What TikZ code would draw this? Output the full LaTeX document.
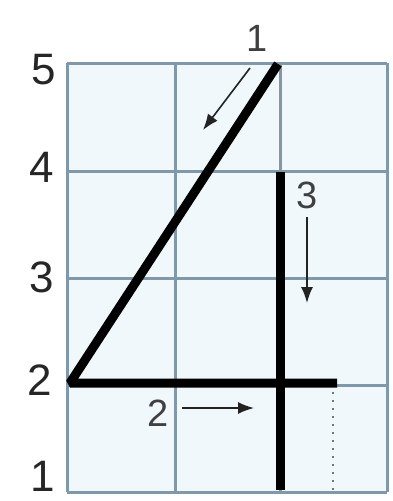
\documentclass[tikz,border=0pt]{standalone}
\usepackage{fontspec}
\setmainfont{Liberation Sans}
\usetikzlibrary{arrows.meta}
\definecolor{gridc}{RGB}{128,152,168}
\definecolor{cellc}{RGB}{240,248,252}
\definecolor{arrc}{RGB}{35,35,35}
\begin{document}
\begin{tikzpicture}[x=1pt,y=-1pt,
  gridline/.style={draw=gridc,line width=3pt},
  stroke/.style={draw=black,line width=9pt},
  hint/.style={draw=arrc,line width=1.6pt,-{Latex[length=16pt,width=12pt]}},
  axislab/.style={font=\fontsize{44}{44}\selectfont,text=black!85,inner sep=0pt},
  numlab/.style={font=\fontsize{38}{38}\selectfont,text=black!75,inner sep=0pt}]
\useasboundingbox (0,0) rectangle (393,501);
\fill[white] (0,0) rectangle (393,501);
\fill[cellc] (67,63) rectangle (387,492);
% grid
\foreach \y in {63,171,278,385,492} \draw[gridline] (67,\y) -- (387,\y);
\foreach \x in {67,175,280,387} \draw[gridline] (\x,63) -- (\x,492);
% axis labels
\node[axislab] (l5) at (44,70) {5};
\node[axislab] (l4) at (42,167) {4};
\node[axislab] (l3) at (42,277) {3};
\node[axislab] (l2) at (40,380) {2};
\node[axislab] (l1) at (43,476) {1};
% key points
\coordinate (top) at (278,64);
\coordinate (left) at (70,383);
\coordinate (right) at (337,383);
\coordinate (vtop) at (280,172);
\coordinate (vbot) at (280,490);
% strokes of the four
\draw[stroke,line join=miter,miter limit=2] (top) -- (left) -- (right);
\draw[stroke] (vtop) -- (vbot);
% dotted continuation
\coordinate (dtop) at (333,392);
\coordinate (dbot) at (333,490);
\draw[black!55,line width=2pt,dash pattern=on 2pt off 6pt] (dtop) -- (dbot);
% arrow 1
\node[numlab] (n1) at (257,38) {1};
\coordinate (a1s) at (250,68);
\coordinate (a1e) at (203,130);
\draw[hint] (a1s) -- (a1e);
% arrow 3
\node[numlab] (n3) at (307,195) {3};
\coordinate (a3s) at (307,217);
\coordinate (a3e) at (307,303);
\draw[hint] (a3s) -- (a3e);
% arrow 2
\node[numlab] (n2) at (158,413) {2};
\coordinate (a2s) at (182,408);
\coordinate (a2e) at (254,408);
\draw[hint] (a2s) -- (a2e);
\end{tikzpicture}
\end{document}
